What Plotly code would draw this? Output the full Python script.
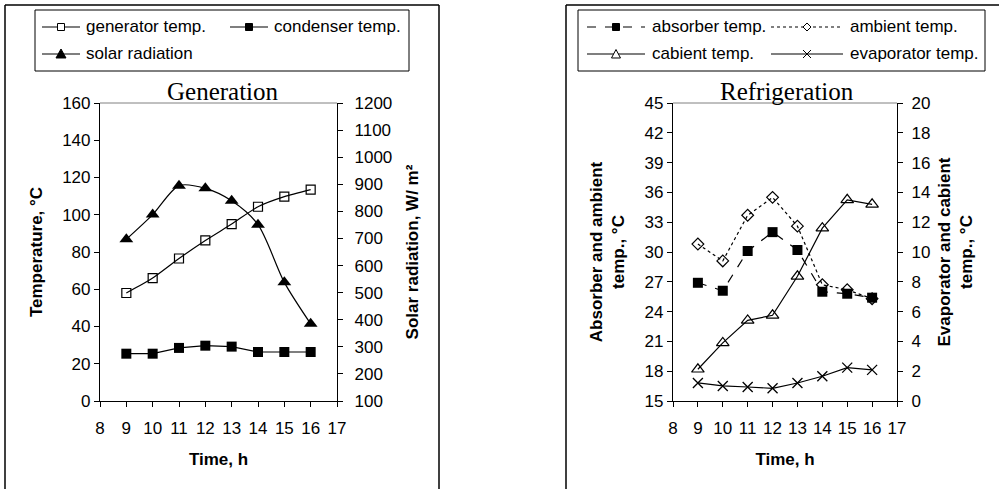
import plotly.graph_objects as go

W, H = 999, 489

# ---------------- data ----------------
hours = [9, 10, 11, 12, 13, 14, 15, 16]

generator_temp = [58, 66, 76.5, 86.2, 95, 104.3, 109.7, 113.5]
condenser_temp = [25.4, 25.4, 28.5, 29.7, 29.2, 26.3, 26.3, 26.3]
solar_radiation = [697, 788, 895, 885, 839, 751, 538, 385]

absorber_temp = [26.9, 26.1, 30.1, 32.0, 30.2, 26.0, 25.8, 25.4]
ambient_temp = [30.8, 29.1, 33.7, 35.5, 32.6, 26.7, 26.2, 25.3]
cabient_temp = [2.13, 3.9, 5.41, 5.75, 8.37, 11.6, 13.5, 13.2]
evaporator_temp = [1.21, 1.01, 0.94, 0.85, 1.21, 1.66, 2.24, 2.09]

x_ticks = list(range(8, 18))
gen_left_ticks = list(range(0, 161, 20))
gen_right_ticks = list(range(100, 1201, 100))
ref_left_ticks = list(range(15, 46, 3))
ref_right_ticks = list(range(0, 21, 2))

# plot area (pixels) spanning both charts
ML, MR, MT, MB = 100, W - 897, 103, H - 401
PW, PH = W - ML - MR, H - MT - MB


def px_x(p):
    return (p - ML) / PW


def px_y(p):
    return (H - MB - p) / PH


FONT = "Liberation Sans, Arial, sans-serif"
SERIF = "Liberation Serif, Times New Roman, serif"

fig = go.Figure()

# ---- Generation chart ----
fig.add_trace(go.Scatter(x=hours, y=generator_temp, name="generator temp.", mode="lines+markers",
                         line=dict(color="black", width=1.2, shape="spline", smoothing=0.6),
                         marker=dict(symbol="square-open", size=9, color="black", line=dict(width=1.2)),
                         xaxis="x", yaxis="y"))
fig.add_trace(go.Scatter(x=hours, y=condenser_temp, name="condenser temp.", mode="lines+markers",
                         line=dict(color="black", width=1.2),
                         marker=dict(symbol="square", size=10, color="black"),
                         xaxis="x", yaxis="y"))
fig.add_trace(go.Scatter(x=hours, y=solar_radiation, name="solar radiation", mode="lines+markers",
                         line=dict(color="black", width=1.2, shape="spline", smoothing=0.8),
                         marker=dict(symbol="triangle-up", size=12, color="black"),
                         xaxis="x", yaxis="y2"))

# ---- Refrigeration chart ----
fig.add_trace(go.Scatter(x=hours, y=absorber_temp, name="absorber temp.", mode="lines+markers",
                         line=dict(color="black", width=1.2, dash="dash"),
                         marker=dict(symbol="square", size=10, color="black"),
                         xaxis="x2", yaxis="y3"))
fig.add_trace(go.Scatter(x=hours, y=ambient_temp, name="ambient temp.", mode="lines+markers",
                         line=dict(color="black", width=1.2, dash="dot"),
                         marker=dict(symbol="diamond-open", size=9, color="black", line=dict(width=1.2)),
                         xaxis="x2", yaxis="y3"))
fig.add_trace(go.Scatter(x=hours, y=cabient_temp, name="cabient temp.", mode="lines+markers",
                         line=dict(color="black", width=1.2),
                         marker=dict(symbol="triangle-up-open", size=11, color="black", line=dict(width=1.2)),
                         xaxis="x2", yaxis="y4"))
fig.add_trace(go.Scatter(x=hours, y=evaporator_temp, name="evaporator temp.", mode="lines+markers",
                         line=dict(color="black", width=1.2),
                         marker=dict(symbol="x-thin", size=10, color="black", line=dict(width=1.3, color="black")),
                         xaxis="x2", yaxis="y4"))

axis_common = dict(showgrid=False, zeroline=False, showline=True, linecolor="black", linewidth=1.2,
                   ticks="outside", ticklen=5, tickcolor="black", tickwidth=1.2,
                   tickfont=dict(family=FONT, size=17, color="black"))
# twin axes that only draw the inner half of the "cross" tick marks
tick_twin = dict(showgrid=False, zeroline=False, showline=False, showticklabels=False,
                 ticks="inside", ticklen=5, tickcolor="black", tickwidth=1.2)
title_font = dict(family=FONT, size=17, color="black", weight="bold")

L = dict(x0=100, x1=337, y0=103, y1=401)
R = dict(x0=673, x1=897, y0=103, y1=401)

fig.update_layout(
    width=W, height=H, margin=dict(l=ML, r=MR, t=MT, b=MB, pad=0),
    paper_bgcolor="white", plot_bgcolor="white",
    font=dict(family=FONT, color="black"),
    showlegend=False,
    xaxis=dict(axis_common, domain=[px_x(L["x0"]), px_x(L["x1"])], range=[8, 17],
               tickvals=x_ticks, anchor="y", ticklabelstandoff=6,
               title=dict(text="Time, h", font=title_font, standoff=16)),
    yaxis=dict(axis_common, domain=[0, 1], range=[0, 160],
               tickvals=gen_left_ticks, anchor="x",
               title=dict(text="Temperature, °C", font=title_font, standoff=15)),
    yaxis2=dict(axis_common, domain=[0, 1], range=[100, 1200],
                tickvals=gen_right_ticks, overlaying="y", side="right", anchor="x",
                ticklabelstandoff=8,
                title=dict(text="Solar radiation, W/ m²", font=title_font, standoff=14)),
    xaxis2=dict(axis_common, domain=[px_x(R["x0"]), px_x(R["x1"])], range=[8, 17],
                tickvals=x_ticks, anchor="y3", ticklabelstandoff=6,
                title=dict(text="Time, h", font=title_font, standoff=16)),
    yaxis3=dict(axis_common, domain=[0, 1], range=[15, 45],
                tickvals=ref_left_ticks, anchor="x2",
                title=dict(text="Absorber and ambient<br>temp., °C", font=title_font, standoff=15)),
    yaxis4=dict(axis_common, domain=[0, 1], range=[0, 20],
                tickvals=ref_right_ticks, overlaying="y3", side="right", anchor="x2",
                ticklabelstandoff=5,
                title=dict(text="Evaporator and cabient<br>temp., °C", font=title_font, standoff=8)),
    # tick twins
    xaxis3=dict(tick_twin, overlaying="x", anchor="y", side="bottom", range=[8, 17], tickvals=x_ticks),
    xaxis4=dict(tick_twin, overlaying="x2", anchor="y3", side="bottom", range=[8, 17], tickvals=x_ticks),
    yaxis5=dict(tick_twin, overlaying="y", anchor="x", side="left", range=[0, 160], tickvals=gen_left_ticks),
    yaxis6=dict(tick_twin, overlaying="y", anchor="x", side="right", range=[100, 1200],
                tickvals=gen_right_ticks),
    yaxis7=dict(tick_twin, overlaying="y3", anchor="x2", side="left", range=[15, 45],
                tickvals=ref_left_ticks),
    yaxis8=dict(tick_twin, overlaying="y3", anchor="x2", side="right", range=[0, 20],
                tickvals=ref_right_ticks),
)

shapes = []
frame = dict(color="black", width=1.5)
for (x0, y0, x1, y1) in [(5, 5, 5, 500), (5, 5, 439, 5), (439, 5, 439, 500),
                         (566, 5, 566, 500), (566, 5, 1010, 5)]:
    shapes.append(dict(type="line", xref="paper", yref="paper",
                       x0=px_x(x0), x1=px_x(x1), y0=px_y(y0), y1=px_y(y1), line=frame))
for P in (L, R):
    shapes.append(dict(type="line", xref="paper", yref="paper", x0=px_x(P["x0"]), x1=px_x(P["x1"]),
                       y0=1, y1=1, line=dict(color="#808080", width=1)))


# ---------------- legends (drawn as decorations) ----------------
def rect(x0, y0, x1, y1, fill, lw=1):
    return dict(type="rect", xref="paper", yref="paper", x0=px_x(x0), x1=px_x(x1),
                y0=px_y(y0), y1=px_y(y1), fillcolor=fill, line=dict(color="black", width=lw))


def poly(pts, fill, lw=1):
    d = "M " + " L ".join(f"{px_x(a):.5f},{px_y(b):.5f}" for a, b in pts) + " Z"
    return dict(type="path", xref="paper", yref="paper", path=d, fillcolor=fill,
                line=dict(color="black", width=lw))


def seg(x0, y0, x1, y1, dash="solid", lw=1.2):
    return dict(type="line", xref="paper", yref="paper", x0=px_x(x0), x1=px_x(x1),
                y0=px_y(y0), y1=px_y(y1), line=dict(color="black", width=lw, dash=dash))


def key(kind, cx, cy):
    s = 3.5
    if kind == "square-open":
        return [rect(cx - s, cy - s, cx + s, cy + s, "white")]
    if kind == "square":
        return [rect(cx - s, cy - s, cx + s, cy + s, "black")]
    if kind == "triangle":
        return [poly([(cx - 5, cy + 4), (cx + 5, cy + 4), (cx, cy - 5)], "black")]
    if kind == "triangle-open":
        return [poly([(cx - 4.5, cy + 4), (cx + 4.5, cy + 4), (cx, cy - 4.5)], "white")]
    if kind == "diamond-open":
        return [poly([(cx - 4, cy), (cx, cy - 4), (cx + 4, cy), (cx, cy + 4)], "white")]
    if kind == "x":
        return [seg(cx - 4, cy - 4, cx + 4, cy + 4, lw=1), seg(cx - 4, cy + 4, cx + 4, cy - 4, lw=1)]
    return []


legend_boxes = [(35, 10, 409, 71), (578, 10, 985, 71)]
legend_items = [
    # (label, line x0, line x1, row y, dash, marker, text x)
    ("generator temp.", 42, 80, 27, "solid", "square-open", 84),
    ("condenser temp.", 230, 268, 27, "solid", "square", 272),
    ("solar radiation", 42, 80, 54, "solid", "triangle", 84),
    ("absorber temp.", 587, 645, 27, "dash", "square", 650),
    ("ambient temp.", 771, 843, 27, "dot", "diamond-open", 848),
    ("cabient temp.", 587, 645, 54, "solid", "triangle-open", 650),
    ("evaporator temp.", 771, 843, 54, "solid", "x", 848),
]

for (x0, y0, x1, y1) in legend_boxes:
    shapes.append(rect(x0, y0, x1, y1, "white", lw=1))
for label, lx0, lx1, ly, dash, mk, tx in legend_items:
    shapes.append(seg(lx0, ly, lx1, ly, dash=dash, lw=1.2))
    shapes.extend(key(mk, (lx0 + lx1) / 2, ly))
    fig.add_annotation(text=label, xref="paper", yref="paper", x=px_x(tx), y=px_y(ly),
                       xanchor="left", yanchor="middle", showarrow=False,
                       font=dict(family=FONT, size=17, color="black"))

fig.update_layout(shapes=shapes)

fig.add_annotation(text="Generation", xref="paper", yref="paper", x=px_x(223), y=1,
                   xanchor="center", yanchor="bottom", yshift=-4, showarrow=False,
                   font=dict(family=SERIF, size=25, color="black"))
fig.add_annotation(text="Refrigeration", xref="paper", yref="paper", x=px_x(787), y=1,
                   xanchor="center", yanchor="bottom", yshift=-4, showarrow=False,
                   font=dict(family=SERIF, size=25, color="black"))

fig.write_html("out.html", config={"displayModeBar": False},
               post_script="document.body.style.margin='0';document.body.style.padding='0';"
                           "document.body.style.overflow='hidden';")
